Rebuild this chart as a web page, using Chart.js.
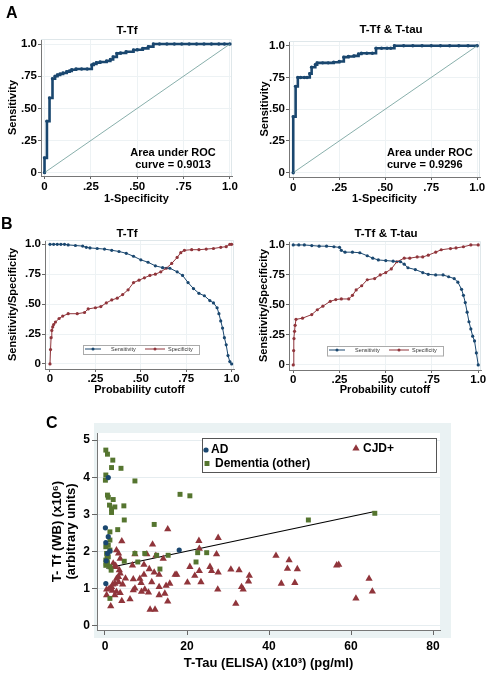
<!DOCTYPE html>
<html>
<head>
<meta charset="utf-8">
<title>T-Tf ROC, cutoff and scatter</title>
<script src="https://cdn.jsdelivr.net/npm/chart.js@4.4.1/dist/chart.umd.min.js"></script>
<style>
  body { margin: 0; background: #fff; }
  #page { position: relative; width: 488px; height: 673px; overflow: hidden; font-family: 'Liberation Sans', Arial, sans-serif; }
  canvas { position: absolute; }
  .tag { position: absolute; font-weight: bold; font-size: 16px; line-height: 16px; }
  .ttl { position: absolute; width: 200px; margin-left: -100px; text-align: center; font-weight: bold; font-size: 11.5px; line-height: 14px; height: 14px; }
</style>
</head>
<body>
<div id="page">
  <canvas id="rocA" width="244" height="210" style="left:0;top:0"></canvas>
  <canvas id="rocB" width="244" height="210" style="left:244px;top:0"></canvas>
  <canvas id="cutA" width="244" height="200" style="left:0;top:200px"></canvas>
  <canvas id="cutB" width="244" height="200" style="left:244px;top:200px"></canvas>
  <canvas id="scat" width="488" height="273" style="left:0;top:400px"></canvas>
  <div class="tag" style="left:6px;top:5px">A</div>
  <div class="tag" style="left:1px;top:216px">B</div>
  <div class="tag" style="left:46px;top:415px">C</div>
  <div class="ttl" style="left:127px;top:23px">T-Tf</div>
  <div class="ttl" style="left:391px;top:22px">T-Tf &amp; T-tau</div>
  <div class="ttl" style="left:127px;top:226px">T-Tf</div>
  <div class="ttl" style="left:386px;top:226px">T-Tf &amp; T-tau</div>
</div>
<script>
// ---- data ----
// A: ROC curves (1-specificity, sensitivity)
const rocTfFpr = [0, 0, 0.013, 0.027, 0.043, 0.057, 0.07, 0.084, 0.1, 0.12, 0.135, 0.147, 0.17, 0.2, 0.23, 0.255, 0.265, 0.28, 0.3, 0.335, 0.355, 0.37, 0.39, 0.41, 0.44, 0.48, 0.5, 0.53, 0.56, 0.587, 0.62, 0.66, 0.7, 0.74, 0.78, 0.82, 0.86, 0.9, 0.94, 0.97, 1.0];
const rocTfTpr = [0, 0.115, 0.4, 0.58, 0.73, 0.75, 0.76, 0.767, 0.775, 0.785, 0.79, 0.80, 0.806, 0.806, 0.806, 0.837, 0.845, 0.855, 0.86, 0.868, 0.88, 0.90, 0.927, 0.93, 0.94, 0.953, 0.955, 0.966, 0.98, 1, 1, 1, 1, 1, 1, 1, 1, 1, 1, 1, 1];
const rocBothFpr = [0, 0, 0.013, 0.025, 0.04, 0.06, 0.075, 0.09, 0.1, 0.12, 0.13, 0.16, 0.19, 0.22, 0.25, 0.275, 0.3, 0.33, 0.355, 0.37, 0.4, 0.43, 0.45, 0.48, 0.51, 0.53, 0.55, 0.6, 0.65, 0.7, 0.75, 0.8, 0.85, 0.9, 0.95, 1.0];
const rocBothTpr = [0, 0.44, 0.68, 0.75, 0.75, 0.75, 0.75, 0.78, 0.83, 0.85, 0.865, 0.865, 0.865, 0.87, 0.875, 0.91, 0.915, 0.92, 0.935, 0.94, 0.94, 0.94, 0.98, 0.98, 0.98, 0.98, 1, 1, 1, 1, 1, 1, 1, 1, 1, 1];
const refLine = [0, 1];
const aucTf = ['Area under ROC', 'curve = 0.9013'];
const aucBoth = ['Area under ROC', 'curve = 0.9296'];

// B: sensitivity / specificity against probability cutoff
const sensTfCut = [0, 0.02, 0.04, 0.06, 0.08, 0.1, 0.14, 0.18, 0.2, 0.22, 0.26, 0.3, 0.34, 0.38, 0.42, 0.46, 0.5, 0.54, 0.58, 0.62, 0.66, 0.7, 0.73, 0.76, 0.79, 0.82, 0.85, 0.88, 0.9, 0.92, 0.93, 0.94, 0.95, 0.96, 0.97, 0.98, 0.99, 1.0];
const sensTf = [1, 1, 1, 1, 1, 0.995, 0.99, 0.985, 0.975, 0.97, 0.965, 0.96, 0.95, 0.94, 0.925, 0.9, 0.87, 0.85, 0.82, 0.805, 0.8, 0.77, 0.74, 0.68, 0.63, 0.59, 0.57, 0.53, 0.51, 0.47, 0.42, 0.36, 0.3, 0.22, 0.16, 0.07, 0.02, 0];
const specTfCut = [0, 0.003, 0.006, 0.01, 0.015, 0.02, 0.03, 0.05, 0.07, 0.1, 0.15, 0.19, 0.21, 0.25, 0.28, 0.31, 0.34, 0.37, 0.4, 0.43, 0.46, 0.49, 0.52, 0.55, 0.58, 0.61, 0.64, 0.67, 0.7, 0.72, 0.74, 0.78, 0.82, 0.86, 0.9, 0.94, 0.97, 0.99, 1.0];
const specTf = [0, 0.12, 0.22, 0.28, 0.31, 0.33, 0.35, 0.38, 0.4, 0.42, 0.42, 0.43, 0.46, 0.47, 0.48, 0.51, 0.535, 0.55, 0.58, 0.62, 0.68, 0.7, 0.72, 0.74, 0.75, 0.77, 0.8, 0.84, 0.89, 0.93, 0.95, 0.955, 0.955, 0.96, 0.965, 0.975, 0.98, 1, 1];
const sensBothCut = [0, 0.03, 0.06, 0.1, 0.14, 0.18, 0.22, 0.25, 0.26, 0.28, 0.32, 0.36, 0.4, 0.43, 0.46, 0.5, 0.54, 0.58, 0.6, 0.62, 0.66, 0.7, 0.73, 0.77, 0.81, 0.84, 0.87, 0.89, 0.91, 0.92, 0.93, 0.94, 0.95, 0.96, 0.97, 0.98, 0.99, 1.0];
const sensBoth = [1, 1, 1, 0.995, 0.99, 0.99, 0.985, 0.98, 0.955, 0.94, 0.94, 0.935, 0.91, 0.89, 0.875, 0.87, 0.865, 0.86, 0.84, 0.81, 0.795, 0.77, 0.755, 0.75, 0.75, 0.735, 0.72, 0.69, 0.63, 0.58, 0.52, 0.44, 0.36, 0.3, 0.24, 0.2, 0.1, 0];
const specBothCut = [0, 0.002, 0.004, 0.007, 0.01, 0.015, 0.05, 0.1, 0.13, 0.16, 0.2, 0.23, 0.26, 0.3, 0.32, 0.34, 0.37, 0.4, 0.44, 0.47, 0.5, 0.53, 0.56, 0.6, 0.63, 0.67, 0.7, 0.73, 0.77, 0.8, 0.85, 0.88, 0.92, 0.96, 1.0];
const specBoth = [0, 0.12, 0.22, 0.28, 0.33, 0.38, 0.39, 0.42, 0.46, 0.49, 0.53, 0.545, 0.55, 0.55, 0.58, 0.625, 0.66, 0.71, 0.72, 0.75, 0.77, 0.8, 0.86, 0.89, 0.89, 0.9, 0.9, 0.915, 0.94, 0.96, 0.97, 0.975, 0.985, 1, 1];

const unitTicks = [0, 0.25, 0.5, 0.75, 1];
const unitLabels = ['0', '.25', '.50', '.75', '1.0'];

// C: T-Tf (WB) vs T-Tau (ELISA)
const adX = [0.8, 0.1, 0.8, 0.2, 1.2, 0.2, 18.1, 0.6, 0.3];
const adY = [3.99, 2.64, 2.40, 2.24, 2.01, 1.14, 2.04, 1.95, 1.75];
const demX = [0.2, 0.6, 1.9, 1.6, 3.9, 0.2, 0.1, 7.3, 0.6, 0.8, 2.0, 1.1, 2.4, 1.6, 4.6, 1.6, 4.7, 18.3, 20.7, 3.1, 12.0, 49.6, 65.8, 1.2, 1.2, 0.8, 0.2, 1.2, 0.4, 0.8, 0.2, 0.6, 0.2, 1.2, 4.7, 7.3, 8.0, 9.7, 12.6, 15.4, 13.4, 22.6, 22.2, 24.8, 1.2, 0.5, 1.5, 0.3];
const demY = [4.73, 4.62, 4.46, 4.26, 4.24, 4.06, 3.92, 3.90, 3.52, 3.46, 3.40, 3.25, 3.20, 3.15, 3.23, 3.05, 2.85, 3.54, 3.50, 2.59, 2.73, 2.85, 3.03, 2.53, 2.31, 2.17, 2.13, 2.04, 1.95, 1.86, 1.77, 1.70, 1.63, 1.59, 1.74, 1.95, 1.72, 1.95, 1.90, 1.90, 1.53, 1.97, 1.72, 1.97, 0.74, 1.82, 1.50, 1.68];
const cjdX = [4.1, 11.6, 15.3, 22.9, 27.6, 27.2, 23.0, 7.3, 2.8, 3.3, 3.7, 10.2, 14.2, 12.4, 6.7, 9.5, 10.8, 3.5, 2.4, 20.7, 25.6, 26.0, 23.0, 27.6, 17.5, 12.0, 13.2, 21.9, 30.7, 32.7, 35.2, 41.7, 44.9, 44.5, 46.9, 56.5, 57.0, 35.0, 23.4, 20.1, 43.0, 46.3, 64.4, 65.2, 61.2, 33.3, 33.7, 31.9, 27.5, 14.9, 14.6, 15.3, 13.2, 13.2, 11.4, 10.6, 8.9, 8.8, 8.5, 9.5, 6.9, 7.3, 6.9, 6.1, 4.1, 1.4, 2.8, 3.7, 2.4, 0.4, 0.4, 1.6, 2.4, 3.3, 2.8, 3.7, 3.3, 2.0, 11.0, 12.2, 4.3, 9.7, 17.1, 15.8, 1.0, 1.8, 2.6, 1.9, 5.0];
const cjdY = [2.28, 2.19, 2.60, 2.29, 2.37, 1.93, 2.08, 1.93, 2.04, 1.95, 1.81, 1.93, 1.81, 1.89, 1.63, 1.65, 1.53, 1.50, 1.59, 1.59, 1.59, 1.48, 1.48, 1.44, 1.38, 1.44, 1.38, 1.35, 1.52, 1.50, 1.35, 1.89, 1.77, 1.54, 1.53, 1.63, 1.65, 1.20, 1.18, 1.17, 1.14, 1.16, 1.27, 0.93, 0.74, 1.05, 0.98, 0.60, 0.98, 1.08, 0.87, 0.66, 0.83, 1.05, 1.18, 0.90, 0.92, 1.16, 1.27, 1.38, 1.26, 1.01, 0.96, 0.72, 0.67, 0.53, 0.92, 0.89, 0.83, 0.98, 0.83, 1.05, 1.14, 1.18, 1.27, 1.41, 1.32, 1.68, 0.44, 0.44, 1.12, 0.98, 1.38, 1.14, 1.0, 0.95, 1.62, 1.12, 1.28];
const fitX = [0.3, 65.5];
const fitY = [1.55, 3.07];
const tauTicks = [0, 20, 40, 60, 80];
const tfTicks = [0, 1, 2, 3, 4, 5];

// ---- styling ----
const NAVY = '#1a476f', MAROON = '#90353b', GREEN = '#55752f';
Chart.defaults.font.family = "'Liberation Sans', Arial, sans-serif";
Chart.defaults.color = '#000';

const pts = (xs, ys) => xs.map((x, i) => ({ x, y: ys[i] }));

function axis(o) {
  return {
    type: 'linear', min: o.min, max: o.max,
    afterFit: s => { if (s.isHorizontal()) s.height = o.size; else s.width = o.size; },
    afterBuildTicks: s => { s.ticks = o.vals.map(v => ({ value: v })); },
    ticks: { autoSkip: false, maxRotation: 0, padding: o.pad, color: '#000',
      font: { size: o.fs, weight: 'bold' }, callback: (v, i) => o.labels[i] },
    grid: { drawOnChartArea: o.grid !== false, color: o.gridColor || '#edf2f4', tickLength: o.tl, tickColor: '#666' },
    border: { color: '#777' },
    title: { display: true, text: o.title, color: '#000',
      font: { size: o.tfs, weight: 'bold', lineHeight: o.tlh || 1.2 }, padding: o.tpad }
  };
}

// light frame on top/right of plot region
const frame = {
  id: 'frame',
  beforeDatasetsDraw(chart, args, o) {
    if (!o.color) return;
    const { ctx, chartArea: a } = chart;
    ctx.save();
    ctx.strokeStyle = o.color; ctx.lineWidth = 1;
    ctx.beginPath();
    ctx.moveTo(a.left, a.top + 0.5);
    ctx.lineTo(a.right - 0.5, a.top + 0.5);
    ctx.lineTo(a.right - 0.5, a.bottom);
    ctx.stroke();
    ctx.restore();
  }
};

// tinted graph region behind panel C
const plotBg = {
  id: 'plotBg',
  beforeDraw(chart, args, o) {
    if (!o.outer) return;
    const { ctx, chartArea: a } = chart;
    ctx.save();
    ctx.fillStyle = o.outer;
    ctx.fillRect(a.left - 3, a.top - 10, a.width + 14, a.height + 18);
    ctx.fillStyle = '#fff';
    ctx.fillRect(a.left, a.top, a.width, a.height);
    ctx.restore();
  }
};

function marker(ctx, style, r, color, x, y) {
  ctx.fillStyle = color;
  ctx.beginPath();
  if (style === 'rect') {
    const h = r * Math.SQRT1_2;
    ctx.rect(x - h, y - h, 2 * h, 2 * h);
  } else if (style === 'triangle') {
    ctx.moveTo(x, y - r);
    ctx.lineTo(x + r * 0.866, y + r / 2);
    ctx.lineTo(x - r * 0.866, y + r / 2);
    ctx.closePath();
  } else {
    ctx.arc(x, y, r, 0, Math.PI * 2);
  }
  ctx.fill();
}

// boxed legend placed inside the plot region
const boxLegend = {
  id: 'boxLegend',
  afterDatasetsDraw(chart, args, o) {
    if (!o.box) return;
    const { ctx, chartArea: a } = chart;
    const [bx, by, bw, bh] = o.box;
    ctx.save();
    ctx.fillStyle = '#fff';
    ctx.fillRect(a.left + bx, a.top + by, bw, bh);
    ctx.strokeStyle = o.border; ctx.lineWidth = 1;
    ctx.strokeRect(Math.round(a.left + bx) + 0.5, Math.round(a.top + by) + 0.5, bw, bh);
    o.items.forEach(it => {
      const ds = chart.data.datasets[it.ds];
      const mx = a.left + it.at[0], my = a.top + it.at[1];
      if (it.seg) {
        ctx.strokeStyle = ds.borderColor; ctx.lineWidth = 1;
        ctx.beginPath(); ctx.moveTo(mx - it.seg, my); ctx.lineTo(mx + it.seg, my); ctx.stroke();
      }
      marker(ctx, ds.pointStyle, it.r, ds.pointBackgroundColor, mx, my);
      ctx.fillStyle = o.color; ctx.font = o.font; ctx.textBaseline = 'middle';
      ctx.fillText(ds.label, a.left + it.tx, my);
    });
    ctx.restore();
  }
};

// AUC annotation
const note = {
  id: 'note',
  afterDatasetsDraw(chart, args, o) {
    if (!o.lines) return;
    const { ctx, chartArea: a } = chart;
    ctx.save();
    ctx.fillStyle = '#000'; ctx.font = o.font; ctx.textAlign = o.align || 'center'; ctx.textBaseline = 'middle';
    o.lines.forEach((t, i) => ctx.fillText(t, a.left + o.at[0], a.top + o.at[1] + i * o.lh));
    ctx.restore();
  }
};

function chart(id, pad, datasets, scales, plugOpts) {
  return new Chart(document.getElementById(id), {
    type: 'scatter',
    data: { datasets },
    options: {
      responsive: false, animation: false, events: [], devicePixelRatio: 1,
      layout: { padding: pad },
      scales,
      plugins: Object.assign({ legend: { display: false }, tooltip: { enabled: false } }, plugOpts)
    },
    plugins: [plotBg, frame, boxLegend, note]
  });
}

function rocSets(fpr, tpr) {
  return [
    { label: 'Reference', data: pts(refLine, refLine), showLine: true, borderColor: '#6a9a96', borderWidth: 0.8, pointRadius: 0 },
    { label: 'ROC', data: pts(fpr, tpr), showLine: true, stepped: 'before', borderColor: NAVY, borderWidth: 2.6,
      pointRadius: 1.7, pointStyle: 'circle', pointBackgroundColor: NAVY, pointBorderWidth: 0 }
  ];
}

function cutSets(sc, sv, pc, pv) {
  return [
    { label: 'Sensitivity', data: pts(sc, sv), showLine: true, borderColor: NAVY, borderWidth: 1,
      pointRadius: 1.6, pointStyle: 'circle', pointBackgroundColor: NAVY, pointBorderWidth: 0 },
    { label: 'Specificity', data: pts(pc, pv), showLine: true, borderColor: MAROON, borderWidth: 1,
      pointRadius: 1.6, pointStyle: 'circle', pointBackgroundColor: MAROON, pointBorderWidth: 0 }
  ];
}

const smallX = (min, max, size, pb, title, pad) => axis({ min, max, size, vals: unitTicks, labels: unitLabels, fs: 11.5, pad,
  tl: 3, title, tfs: 11, tpad: { top: 0, bottom: pb } });
const smallY = (min, max, size, pt, title) => axis({ min, max, size, vals: unitTicks, labels: unitLabels, fs: 11.5, pad: 1,
  tl: 3, title, tfs: 11, tpad: { top: pt, bottom: 0 } });

const aucFont = 'bold 11px "Liberation Sans", Arial, sans-serif';
const legFont = '5.5px "Liberation Sans", Arial, sans-serif';

// A
chart('rocA', { top: 39, right: 12, bottom: 0, left: 0 }, rocSets(rocTfFpr, rocTfTpr),
  { x: smallX(-0.019, 1.011, 34, 4, '1-Specificity', 1), y: smallY(-0.026, 1.039, 41, 6, 'Sensitivity') },
  { frame: { color: '#dfe7ea' }, note: { lines: aucTf, at: [132, 114], lh: 11.5, font: aucFont } });
chart('rocB', { top: 41, right: 8, bottom: 0, left: 0 }, rocSets(rocBothFpr, rocBothTpr),
  { x: smallX(-0.023, 1.015, 33, 4, '1-Specificity', 1), y: smallY(-0.034, 1.037, 45, 14.4, 'Sensitivity') },
  { frame: { color: '#dfe7ea' }, note: { lines: aucBoth, at: [98, 112], lh: 11.6, font: aucFont, align: 'left' } });

// B
const legItems = [
  { ds: 0, at: [48, 109], seg: 8, r: 1.5, tx: 66 },
  { ds: 1, at: [110, 109], seg: 10, r: 1.5, tx: 123 }
];
chart('cutA', { top: 40, right: 10, bottom: 0, left: 0 }, cutSets(sensTfCut, sensTf, specTfCut, specTf),
  { x: smallX(-0.0275, 1.013, 31, 3.4, 'Probability cutoff', 0), y: smallY(-0.042, 1.036, 45, 6, 'Sensitivity/Specificity') },
  { frame: { color: '#dfe7ea' }, boxLegend: { box: [38, 104.5, 116, 9], border: '#aaa', color: '#333', font: legFont, items: legItems } });
chart('cutB', { top: 41, right: 7, bottom: 0, left: 0 }, cutSets(sensBothCut, sensBoth, specBothCut, specBoth),
  { x: smallX(-0.023, 1.015, 30, 3.4, 'Probability cutoff', 0), y: smallY(-0.042, 1.033, 45, 13.4, 'Sensitivity/Specificity') },
  { frame: { color: '#dfe7ea' }, boxLegend: { box: [38, 104.5, 116, 9.5], border: '#aaa', color: '#333', font: legFont, items: legItems } });

// C
chart('scat', { top: 33, right: 48, bottom: 0, left: 0 }, [
    { label: 'AD', data: pts(adX, adY), pointStyle: 'circle', pointRadius: 2.6, pointBackgroundColor: NAVY, pointBorderWidth: 0 },
    { label: 'Dementia (other)', data: pts(demX, demY), pointStyle: 'rect', pointRadius: 3.5, pointBackgroundColor: GREEN, pointBorderWidth: 0 },
    { label: 'CJD+', data: pts(cjdX, cjdY), pointStyle: 'triangle', pointRadius: 4.2, pointBackgroundColor: MAROON, pointBorderWidth: 0 },
    { label: 'Fit', data: pts(fitX, fitY), showLine: true, borderColor: '#000', borderWidth: 1.1, pointRadius: 0 }
  ],
  {
    x: axis({ min: -1.95, max: 81.7, size: 43, vals: tauTicks, labels: tauTicks.map(String), fs: 12, pad: 4, tl: 5, grid: false,
      title: 'T-Tau (ELISA) (x10³) (pg/ml)', tfs: 13, tpad: { top: 0, bottom: 2.2 } }),
    y: axis({ min: -0.11, max: 5.19, size: 97, vals: tfTicks, labels: tfTicks.map(String), fs: 12, pad: 2, tl: 5, gridColor: '#e6edf0',
      title: ['T- Tf (WB) (x10⁶)', '(arbitrary units)'], tfs: 13, tlh: 1.1, tpad: { top: 49.9, bottom: 0 } })
  },
  { plotBg: { outer: '#eaf2f3' },
    boxLegend: { box: [105, 5, 234, 34], border: '#555', color: '#000', font: 'bold 12px "Liberation Sans", Arial, sans-serif',
      items: [
        { ds: 0, at: [109, 17], r: 2.6, tx: 114 },
        { ds: 1, at: [110, 30.5], r: 3.5, tx: 118 },
        { ds: 2, at: [259, 15.5], r: 4.2, tx: 266 }
      ] } });
</script>
</body>
</html>
